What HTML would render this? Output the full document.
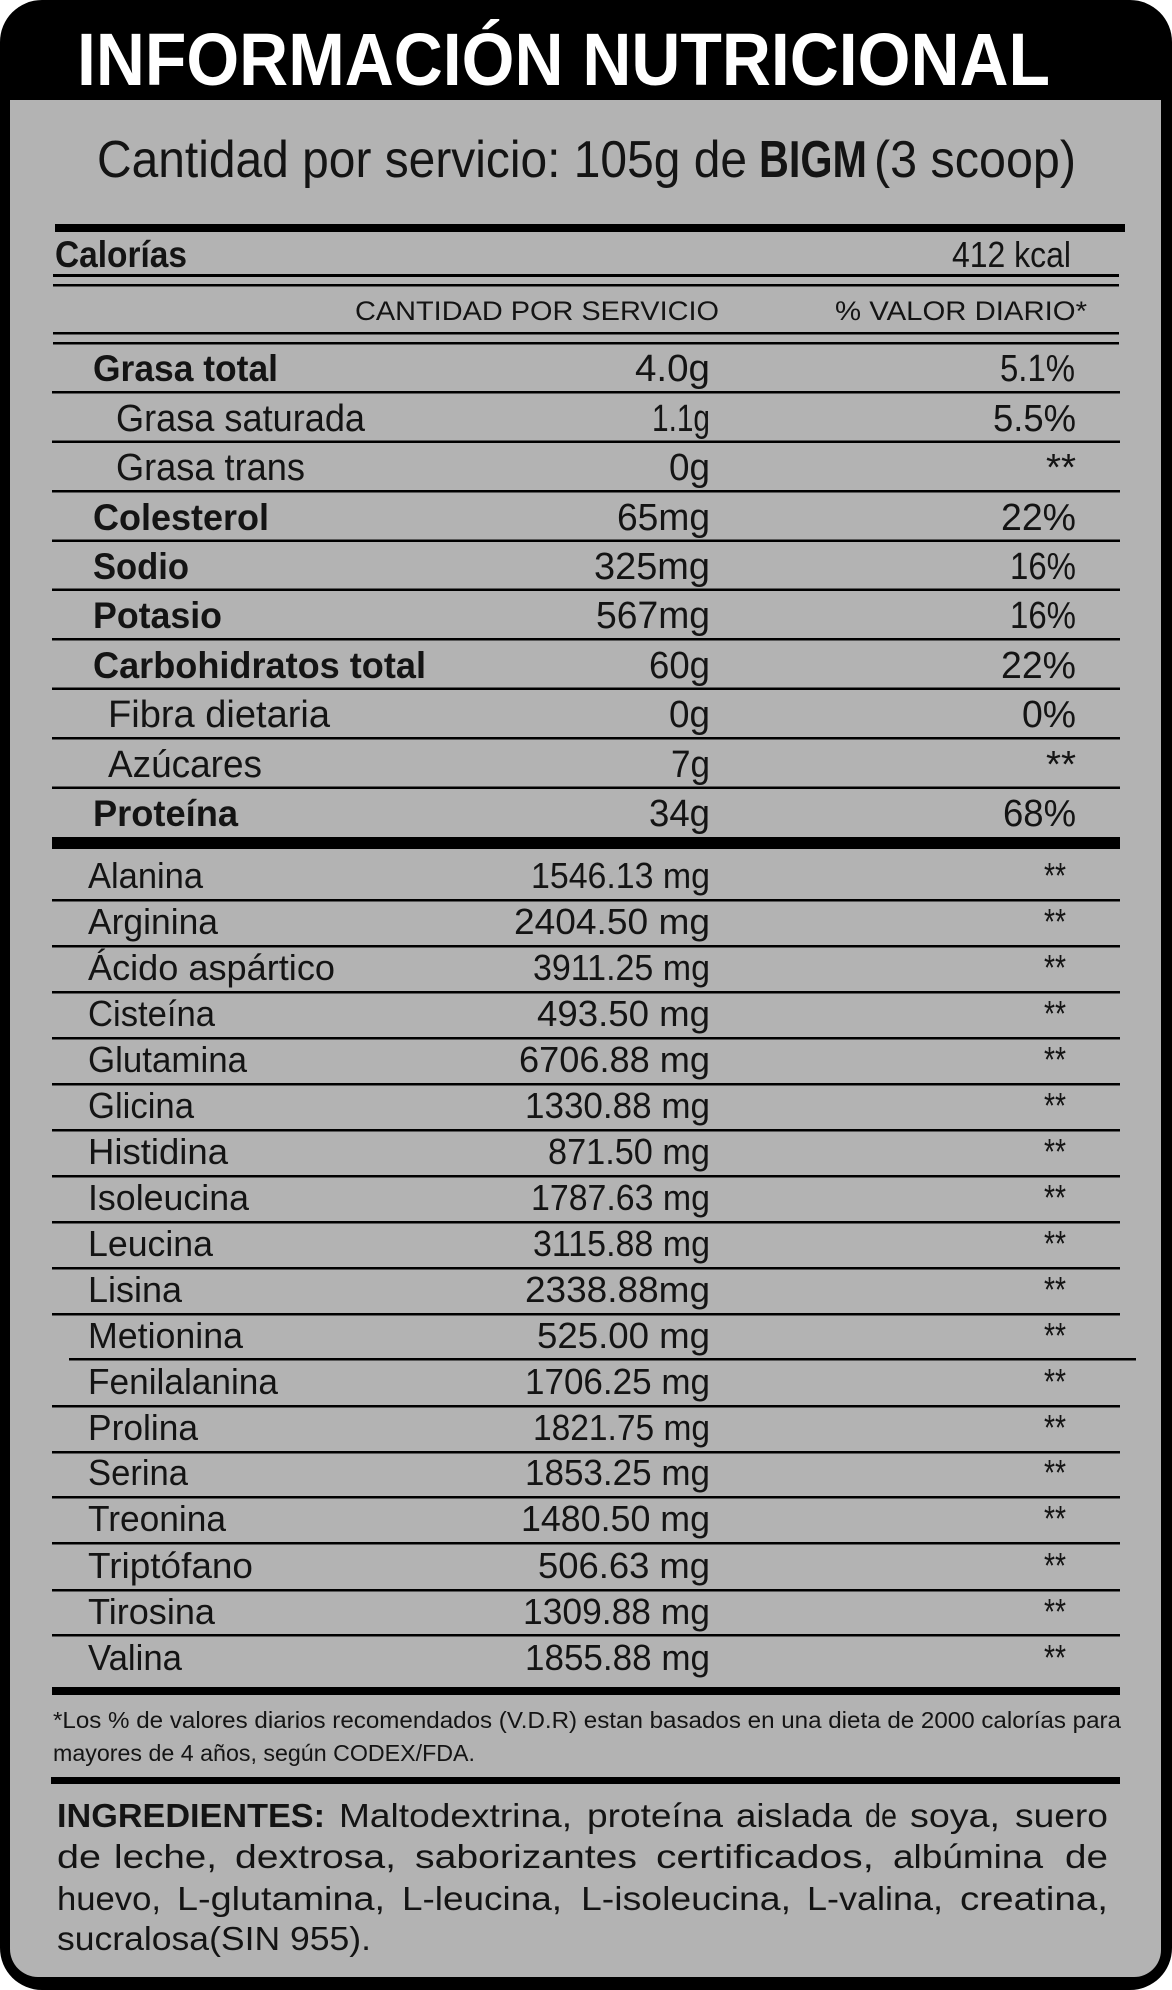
<!DOCTYPE html>
<html lang="es">
<head>
<meta charset="utf-8">
<title>Información Nutricional</title>
<style>
  html, body { margin: 0; padding: 0; background: #ffffff; }
  svg { display: block; }
  text { font-family: "Liberation Sans", "DejaVu Sans", sans-serif; fill: #141414; }
  .b { font-weight: bold; }
</style>
</head>
<body>
<svg xmlns="http://www.w3.org/2000/svg" width="1172" height="1990" viewBox="0 0 1172 1990">
  <!-- outer frame -->
  <rect x="0" y="0" width="1172" height="1990" rx="42" ry="42" fill="#000"/>
  <!-- gray panel -->
  <path d="M10,100 H1161 V1950 A27,27 0 0 1 1134,1977 H38 A28,28 0 0 1 10,1949 Z" fill="#b3b3b3"/>

  <!-- title -->
  <text x="77" y="85" font-size="74" class="b" style="fill:#fff" textLength="973" lengthAdjust="spacingAndGlyphs">INFORMACIÓN NUTRICIONAL</text>

  <!-- subtitle -->
  <text x="97" y="177" font-size="52" textLength="650" lengthAdjust="spacingAndGlyphs">Cantidad por servicio: 105g de</text>
  <text x="759" y="177" font-size="52" class="b" textLength="108" lengthAdjust="spacingAndGlyphs">BIGM</text>
  <text x="874" y="177" font-size="52" textLength="202" lengthAdjust="spacingAndGlyphs">(3 scoop)</text>

  <!-- header lines -->
  <rect x="55" y="224" width="1070" height="8" fill="#000"/>
  <rect x="53" y="274" width="1066" height="3" fill="#000"/>
  <rect x="53" y="284" width="1066" height="2.5" fill="#000"/>
  <rect x="53" y="332" width="1066" height="2.5" fill="#000"/>
  <rect x="53" y="342" width="1066" height="2.5" fill="#000"/>

  <text x="55" y="267" font-size="37" class="b" textLength="132" lengthAdjust="spacingAndGlyphs">Calorías</text>
  <text x="952" y="267" font-size="36" textLength="119" lengthAdjust="spacingAndGlyphs">412 kcal</text>
  <text x="355" y="320" font-size="27" textLength="364" lengthAdjust="spacingAndGlyphs">CANTIDAD POR SERVICIO</text>
  <text x="835" y="320" font-size="27" textLength="252" lengthAdjust="spacingAndGlyphs">% VALOR DIARIO*</text>

  <!-- main row lines -->
  <rect x="52" y="391" width="1068" height="2.5" fill="#000"/>
  <rect x="52" y="440.5" width="1068" height="2.5" fill="#000"/>
  <rect x="52" y="490" width="1068" height="2.5" fill="#000"/>
  <rect x="52" y="539.5" width="1068" height="2.5" fill="#000"/>
  <rect x="52" y="588.5" width="1068" height="2.5" fill="#000"/>
  <rect x="52" y="638" width="1068" height="2.5" fill="#000"/>
  <rect x="52" y="687.5" width="1068" height="2.5" fill="#000"/>
  <rect x="52" y="737" width="1068" height="2.5" fill="#000"/>
  <rect x="52" y="786.5" width="1068" height="2.5" fill="#000"/>
  <rect x="52" y="837" width="1068" height="12" fill="#000"/>

  <!-- main rows -->
  <text x="93" y="381" font-size="37" class="b" textLength="185" lengthAdjust="spacingAndGlyphs">Grasa total</text>
  <text x="635" y="381" font-size="38" textLength="75" lengthAdjust="spacingAndGlyphs">4.0g</text>
  <text x="1000" y="381" font-size="38" textLength="75" lengthAdjust="spacingAndGlyphs">5.1%</text>

  <text x="116" y="431" font-size="38" textLength="249" lengthAdjust="spacingAndGlyphs">Grasa saturada</text>
  <text x="652" y="431" font-size="38" textLength="58" lengthAdjust="spacingAndGlyphs">1.1g</text>
  <text x="993" y="431" font-size="38" textLength="83" lengthAdjust="spacingAndGlyphs">5.5%</text>

  <text x="116" y="480" font-size="38" textLength="189" lengthAdjust="spacingAndGlyphs">Grasa trans</text>
  <text x="669" y="480" font-size="38" textLength="41" lengthAdjust="spacingAndGlyphs">0g</text>
  <text x="1046" y="480" font-size="38" textLength="30" lengthAdjust="spacingAndGlyphs">**</text>

  <text x="93" y="530" font-size="37" class="b" textLength="176" lengthAdjust="spacingAndGlyphs">Colesterol</text>
  <text x="617" y="530" font-size="38" textLength="93" lengthAdjust="spacingAndGlyphs">65mg</text>
  <text x="1001" y="530" font-size="38" textLength="75" lengthAdjust="spacingAndGlyphs">22%</text>

  <text x="93" y="579" font-size="37" class="b" textLength="96" lengthAdjust="spacingAndGlyphs">Sodio</text>
  <text x="594" y="579" font-size="38" textLength="116" lengthAdjust="spacingAndGlyphs">325mg</text>
  <text x="1010" y="579" font-size="38" textLength="66" lengthAdjust="spacingAndGlyphs">16%</text>

  <text x="93" y="628" font-size="37" class="b" textLength="129" lengthAdjust="spacingAndGlyphs">Potasio</text>
  <text x="596" y="628" font-size="38" textLength="114" lengthAdjust="spacingAndGlyphs">567mg</text>
  <text x="1010" y="628" font-size="38" textLength="66" lengthAdjust="spacingAndGlyphs">16%</text>

  <text x="93" y="678" font-size="37" class="b" textLength="333" lengthAdjust="spacingAndGlyphs">Carbohidratos total</text>
  <text x="649" y="678" font-size="38" textLength="61" lengthAdjust="spacingAndGlyphs">60g</text>
  <text x="1001" y="678" font-size="38" textLength="75" lengthAdjust="spacingAndGlyphs">22%</text>

  <text x="108" y="727" font-size="38" textLength="222" lengthAdjust="spacingAndGlyphs">Fibra dietaria</text>
  <text x="669" y="727" font-size="38" textLength="41" lengthAdjust="spacingAndGlyphs">0g</text>
  <text x="1022" y="727" font-size="38" textLength="54" lengthAdjust="spacingAndGlyphs">0%</text>

  <text x="108" y="777" font-size="38" textLength="154" lengthAdjust="spacingAndGlyphs">Azúcares</text>
  <text x="671" y="777" font-size="38" textLength="39" lengthAdjust="spacingAndGlyphs">7g</text>
  <text x="1046" y="777" font-size="38" textLength="30" lengthAdjust="spacingAndGlyphs">**</text>

  <text x="93" y="826" font-size="37" class="b" textLength="145" lengthAdjust="spacingAndGlyphs">Proteína</text>
  <text x="649" y="826" font-size="38" textLength="61" lengthAdjust="spacingAndGlyphs">34g</text>
  <text x="1003" y="826" font-size="38" textLength="73" lengthAdjust="spacingAndGlyphs">68%</text>

  <!-- amino acid lines -->
  <rect x="52" y="899" width="1068" height="2.5" fill="#000"/>
  <rect x="52" y="945" width="1068" height="2.5" fill="#000"/>
  <rect x="52" y="991" width="1068" height="2.5" fill="#000"/>
  <rect x="52" y="1037" width="1068" height="2.5" fill="#000"/>
  <rect x="52" y="1083" width="1068" height="2.5" fill="#000"/>
  <rect x="52" y="1129" width="1068" height="2.5" fill="#000"/>
  <rect x="52" y="1175" width="1068" height="2.5" fill="#000"/>
  <rect x="52" y="1221" width="1068" height="2.5" fill="#000"/>
  <rect x="52" y="1267" width="1068" height="2.5" fill="#000"/>
  <rect x="52" y="1313" width="1068" height="2.5" fill="#000"/>
  <rect x="69" y="1358" width="1067" height="2.5" fill="#000"/>
  <rect x="52" y="1405" width="1068" height="2.5" fill="#000"/>
  <rect x="52" y="1451" width="1068" height="2.5" fill="#000"/>
  <rect x="52" y="1496" width="1068" height="2.5" fill="#000"/>
  <rect x="52" y="1542" width="1068" height="2.5" fill="#000"/>
  <rect x="52" y="1589" width="1068" height="2.5" fill="#000"/>
  <rect x="52" y="1634" width="1068" height="2.5" fill="#000"/>
  <rect x="52" y="1687" width="1068" height="8" fill="#000"/>

  <!-- amino acid rows -->
  <g font-size="36">
    <text x="88" y="888" textLength="115" lengthAdjust="spacingAndGlyphs">Alanina</text>
    <text x="531" y="888" textLength="179" lengthAdjust="spacingAndGlyphs">1546.13 mg</text>
    <text x="1044" y="888" textLength="22" lengthAdjust="spacingAndGlyphs">**</text>

    <text x="88" y="934" textLength="130" lengthAdjust="spacingAndGlyphs">Arginina</text>
    <text x="514" y="934" textLength="196" lengthAdjust="spacingAndGlyphs">2404.50 mg</text>
    <text x="1044" y="934" textLength="22" lengthAdjust="spacingAndGlyphs">**</text>

    <text x="88" y="980" textLength="247" lengthAdjust="spacingAndGlyphs">Ácido aspártico</text>
    <text x="533" y="980" textLength="177" lengthAdjust="spacingAndGlyphs">3911.25 mg</text>
    <text x="1044" y="980" textLength="22" lengthAdjust="spacingAndGlyphs">**</text>

    <text x="88" y="1026" textLength="127" lengthAdjust="spacingAndGlyphs">Cisteína</text>
    <text x="537" y="1026" textLength="173" lengthAdjust="spacingAndGlyphs">493.50 mg</text>
    <text x="1044" y="1026" textLength="22" lengthAdjust="spacingAndGlyphs">**</text>

    <text x="88" y="1072" textLength="159" lengthAdjust="spacingAndGlyphs">Glutamina</text>
    <text x="519" y="1072" textLength="191" lengthAdjust="spacingAndGlyphs">6706.88 mg</text>
    <text x="1044" y="1072" textLength="22" lengthAdjust="spacingAndGlyphs">**</text>

    <text x="88" y="1118" textLength="106" lengthAdjust="spacingAndGlyphs">Glicina</text>
    <text x="525" y="1118" textLength="185" lengthAdjust="spacingAndGlyphs">1330.88 mg</text>
    <text x="1044" y="1118" textLength="22" lengthAdjust="spacingAndGlyphs">**</text>

    <text x="88" y="1164" textLength="140" lengthAdjust="spacingAndGlyphs">Histidina</text>
    <text x="548" y="1164" textLength="162" lengthAdjust="spacingAndGlyphs">871.50 mg</text>
    <text x="1044" y="1164" textLength="22" lengthAdjust="spacingAndGlyphs">**</text>

    <text x="88" y="1210" textLength="161" lengthAdjust="spacingAndGlyphs">Isoleucina</text>
    <text x="531" y="1210" textLength="179" lengthAdjust="spacingAndGlyphs">1787.63 mg</text>
    <text x="1044" y="1210" textLength="22" lengthAdjust="spacingAndGlyphs">**</text>

    <text x="88" y="1256" textLength="125" lengthAdjust="spacingAndGlyphs">Leucina</text>
    <text x="533" y="1256" textLength="177" lengthAdjust="spacingAndGlyphs">3115.88 mg</text>
    <text x="1044" y="1256" textLength="22" lengthAdjust="spacingAndGlyphs">**</text>

    <text x="88" y="1302" textLength="94" lengthAdjust="spacingAndGlyphs">Lisina</text>
    <text x="525" y="1302" textLength="185" lengthAdjust="spacingAndGlyphs">2338.88mg</text>
    <text x="1044" y="1302" textLength="22" lengthAdjust="spacingAndGlyphs">**</text>

    <text x="88" y="1348" textLength="155" lengthAdjust="spacingAndGlyphs">Metionina</text>
    <text x="537" y="1348" textLength="173" lengthAdjust="spacingAndGlyphs">525.00 mg</text>
    <text x="1044" y="1348" textLength="22" lengthAdjust="spacingAndGlyphs">**</text>

    <text x="88" y="1394" textLength="190" lengthAdjust="spacingAndGlyphs">Fenilalanina</text>
    <text x="525" y="1394" textLength="185" lengthAdjust="spacingAndGlyphs">1706.25 mg</text>
    <text x="1044" y="1394" textLength="22" lengthAdjust="spacingAndGlyphs">**</text>

    <text x="88" y="1440" textLength="110" lengthAdjust="spacingAndGlyphs">Prolina</text>
    <text x="533" y="1440" textLength="177" lengthAdjust="spacingAndGlyphs">1821.75 mg</text>
    <text x="1044" y="1440" textLength="22" lengthAdjust="spacingAndGlyphs">**</text>

    <text x="88" y="1485" textLength="100" lengthAdjust="spacingAndGlyphs">Serina</text>
    <text x="525" y="1485" textLength="185" lengthAdjust="spacingAndGlyphs">1853.25 mg</text>
    <text x="1044" y="1485" textLength="22" lengthAdjust="spacingAndGlyphs">**</text>

    <text x="88" y="1531" textLength="138" lengthAdjust="spacingAndGlyphs">Treonina</text>
    <text x="521" y="1531" textLength="189" lengthAdjust="spacingAndGlyphs">1480.50 mg</text>
    <text x="1044" y="1531" textLength="22" lengthAdjust="spacingAndGlyphs">**</text>

    <text x="88" y="1578" textLength="165" lengthAdjust="spacingAndGlyphs">Triptófano</text>
    <text x="538" y="1578" textLength="172" lengthAdjust="spacingAndGlyphs">506.63 mg</text>
    <text x="1044" y="1578" textLength="22" lengthAdjust="spacingAndGlyphs">**</text>

    <text x="88" y="1624" textLength="127" lengthAdjust="spacingAndGlyphs">Tirosina</text>
    <text x="523" y="1624" textLength="187" lengthAdjust="spacingAndGlyphs">1309.88 mg</text>
    <text x="1044" y="1624" textLength="22" lengthAdjust="spacingAndGlyphs">**</text>

    <text x="88" y="1670" textLength="94" lengthAdjust="spacingAndGlyphs">Valina</text>
    <text x="525" y="1670" textLength="185" lengthAdjust="spacingAndGlyphs">1855.88 mg</text>
    <text x="1044" y="1670" textLength="22" lengthAdjust="spacingAndGlyphs">**</text>
  </g>

  <!-- footnote -->
  <text x="53" y="1728" font-size="23" textLength="1068" lengthAdjust="spacingAndGlyphs">*Los % de valores diarios recomendados (V.D.R) estan basados en una dieta de 2000 calorías para</text>
  <text x="53" y="1761" font-size="23" textLength="422" lengthAdjust="spacingAndGlyphs">mayores de 4 años, según CODEX/FDA.</text>

  <rect x="51" y="1777" width="1069" height="7" fill="#000"/>

  <!-- ingredients -->
  <g font-size="33">
    <text x="57" y="1827" class="b" textLength="268" lengthAdjust="spacingAndGlyphs">INGREDIENTES:</text>
    <text x="339" y="1827" textLength="233" lengthAdjust="spacingAndGlyphs">Maltodextrina,</text>
    <text x="587" y="1827" textLength="136" lengthAdjust="spacingAndGlyphs">proteína</text>
    <text x="736" y="1827" textLength="116" lengthAdjust="spacingAndGlyphs">aislada</text>
    <text x="865" y="1827" textLength="32" lengthAdjust="spacingAndGlyphs">de</text>
    <text x="910" y="1827" textLength="90" lengthAdjust="spacingAndGlyphs">soya,</text>
    <text x="1015" y="1827" textLength="93" lengthAdjust="spacingAndGlyphs">suero</text>

    <text x="57" y="1868" textLength="44" lengthAdjust="spacingAndGlyphs">de</text>
    <text x="114" y="1868" textLength="103" lengthAdjust="spacingAndGlyphs">leche,</text>
    <text x="235" y="1868" textLength="161" lengthAdjust="spacingAndGlyphs">dextrosa,</text>
    <text x="415" y="1868" textLength="222" lengthAdjust="spacingAndGlyphs">saborizantes</text>
    <text x="656" y="1868" textLength="218" lengthAdjust="spacingAndGlyphs">certificados,</text>
    <text x="893" y="1868" textLength="150" lengthAdjust="spacingAndGlyphs">albúmina</text>
    <text x="1065" y="1868" textLength="43" lengthAdjust="spacingAndGlyphs">de</text>

    <text x="57" y="1910" textLength="104" lengthAdjust="spacingAndGlyphs">huevo,</text>
    <text x="177" y="1910" textLength="208" lengthAdjust="spacingAndGlyphs">L-glutamina,</text>
    <text x="402" y="1910" textLength="160" lengthAdjust="spacingAndGlyphs">L-leucina,</text>
    <text x="581" y="1910" textLength="210" lengthAdjust="spacingAndGlyphs">L-isoleucina,</text>
    <text x="807" y="1910" textLength="136" lengthAdjust="spacingAndGlyphs">L-valina,</text>
    <text x="960" y="1910" textLength="148" lengthAdjust="spacingAndGlyphs">creatina,</text>

    <text x="57" y="1950" textLength="314" lengthAdjust="spacingAndGlyphs">sucralosa(SIN 955).</text>
  </g>
</svg>
</body>
</html>
